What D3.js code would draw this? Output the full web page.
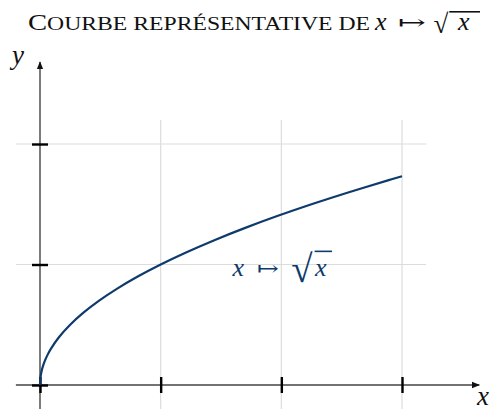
<!DOCTYPE html>
<html>
<head>
<meta charset="utf-8">
<script src="https://cdn.jsdelivr.net/npm/d3@7"></script>
<style>
  html, body { margin: 0; padding: 0; background: #fff; }
  svg { display: block; }
  text { font-family: "Liberation Serif", "DejaVu Serif", serif; white-space: pre; }
</style>
</head>
<body>
<svg id="chart" width="496" height="411"></svg>
<script>
// Sample points of the curve y = √x (x = y², y step 0.1)
const curveX = [0, 0.0025, 0.01, 0.0225, 0.04, 0.0625, 0.09, 0.16, 0.25, 0.36, 0.49, 0.64, 0.81, 1, 1.21, 1.44, 1.69, 1.96, 2.25, 2.56, 2.89, 3];
const curveY = [0, 0.05, 0.1, 0.15, 0.2, 0.25, 0.3, 0.4, 0.5, 0.6, 0.7, 0.8, 0.9, 1, 1.1, 1.2, 1.3, 1.4, 1.5, 1.6, 1.7, 1.7321];

const xTicks = [0, 1, 2, 3];
const yTicks = [0, 1, 2];
const xGrid = [1, 2, 3];
const yGrid = [1, 2];

const titleWords = "Courbe représentative de";
const curveLabelAt = [1.6, 0.9];

const svg = d3.select("#chart");
const x = d3.scaleLinear().domain([0, 3]).range([40, 402]);
const y = d3.scaleLinear().domain([0, 2]).range([385, 144]);

const gridColor = "#dcdcdc";
const axisColor = "#444";
const curveColor = "#0e3b6c";
const ink = "#111";

// grid
svg.append("g").selectAll("line").data(xGrid).join("line")
  .attr("x1", d => x(d)).attr("x2", d => x(d))
  .attr("y1", y(-0.2)).attr("y2", y(2.2))
  .attr("stroke", gridColor).attr("stroke-width", 1.2);
svg.append("g").selectAll("line").data(yGrid).join("line")
  .attr("y1", d => y(d)).attr("y2", d => y(d))
  .attr("x1", x(-0.2)).attr("x2", x(3.2))
  .attr("stroke", gridColor).attr("stroke-width", 1.2);

// arrowhead
svg.append("defs").append("marker")
  .attr("id", "arrow").attr("viewBox", "0 0 10 10")
  .attr("refX", 9).attr("refY", 5)
  .attr("markerWidth", 8).attr("markerHeight", 8)
  .attr("markerUnits", "userSpaceOnUse")
  .attr("orient", "auto")
  .append("path").attr("d", "M0,1 L10,5 L0,9 Z").attr("fill", ink);

// axis lines
svg.append("line")
  .attr("x1", x(-0.2)).attr("x2", x(3.64))
  .attr("y1", y(0)).attr("y2", y(0))
  .attr("stroke", axisColor).attr("stroke-width", 1.4)
  .attr("marker-end", "url(#arrow)");
svg.append("line")
  .attr("x1", x(0)).attr("x2", x(0))
  .attr("y1", y(-0.2)).attr("y2", y(2.68))
  .attr("stroke", axisColor).attr("stroke-width", 1.4)
  .attr("marker-end", "url(#arrow)");

// tick marks crossing the axes
const gx = svg.append("g")
  .attr("transform", `translate(0,${y(0)})`)
  .call(d3.axisBottom(x).tickValues(xTicks).tickFormat("").tickSizeOuter(0));
gx.select(".domain").remove();
gx.selectAll(".tick line").attr("y1", -8).attr("y2", 8)
  .attr("stroke", "#000").attr("stroke-width", 2.4);

const gy = svg.append("g")
  .attr("transform", `translate(${x(0)},0)`)
  .call(d3.axisLeft(y).tickValues(yTicks).tickFormat("").tickSizeOuter(0));
gy.select(".domain").remove();
gy.selectAll(".tick line").attr("x1", -8).attr("x2", 8)
  .attr("stroke", "#000").attr("stroke-width", 2.4);

// curve
const pts = curveX.map((d, i) => [d, curveY[i]]);
svg.append("path")
  .datum(pts)
  .attr("fill", "none")
  .attr("stroke", curveColor)
  .attr("stroke-width", 2.2)
  .attr("d", d3.line().x(d => x(d[0])).y(d => y(d[1])).curve(d3.curveCatmullRom.alpha(0.5)));

// axis names
svg.append("text").attr("x", 12).attr("y", 64)
  .attr("font-style", "italic").attr("font-size", 27).attr("fill", ink).text("y");
svg.append("text").attr("x", 477).attr("y", 405)
  .attr("font-style", "italic").attr("font-size", 27).attr("fill", ink).text("x");

// ink box of a glyph, per unit of font size
const measureCtx = document.createElement("canvas").getContext("2d");
function glyphBox(ch, family) {
  measureCtx.font = `100px "${family}"`;
  const m = measureCtx.measureText(ch);
  return {
    asc: m.actualBoundingBoxAscent / 100,
    desc: m.actualBoundingBoxDescent / 100,
    left: -m.actualBoundingBoxLeft / 100,
    right: m.actualBoundingBoxRight / 100
  };
}
const radBox = glyphBox("√", "DejaVu Serif");

// "x ↦ √x" laid out from given positions; the radical is sized to span [top, bottom]
function mapsToSqrt(g, color, o) {
  g.append("text").attr("x", o.x0).attr("y", o.base)
    .attr("font-size", o.size).attr("font-style", "italic").attr("fill", color).text("x");
  g.append("text").attr("x", o.arrow).attr("y", o.base - 1)
    .attr("font-size", 20).attr("font-family", "DejaVu Serif").attr("fill", color)
    .attr("textLength", o.arrowW).attr("lengthAdjust", "spacingAndGlyphs").text("↦");
  const rs = (o.bottom - o.top) / (radBox.asc + radBox.desc);
  const rx = o.rad - radBox.left * rs;
  g.append("text").attr("x", rx).attr("y", o.top + radBox.asc * rs)
    .attr("font-size", rs).attr("font-family", "DejaVu Serif").attr("fill", color).text("√");
  g.append("text").attr("x", o.arg).attr("y", o.base)
    .attr("font-size", o.size).attr("font-style", "italic").attr("fill", color).text("x");
  g.append("line")
    .attr("x1", rx + radBox.right * rs - 1.5).attr("x2", o.barEnd)
    .attr("y1", o.top + 0.8).attr("y2", o.top + 0.8)
    .attr("stroke", color).attr("stroke-width", 1.6);
}

// title in small capitals: large initial, reduced capitals after
const tg = svg.append("g");
const title = tg.append("text").attr("x", 28).attr("y", 30)
  .attr("fill", ink)
  .attr("textLength", 342).attr("lengthAdjust", "spacingAndGlyphs");
title.append("tspan").attr("font-size", 23).text(titleWords[0].toUpperCase());
title.append("tspan").attr("font-size", 19).text(titleWords.slice(1).toUpperCase());
mapsToSqrt(tg, ink, {
  x0: 375, base: 30, size: 26, arrow: 398, arrowW: 28,
  rad: 434, top: 11, bottom: 34, arg: 458, barEnd: 480
});

// curve label
const lx = x(curveLabelAt[0]), ly = y(curveLabelAt[1]);
mapsToSqrt(svg.append("g"), curveColor, {
  x0: lx - 0.5, base: ly - 1, size: 26, arrow: lx + 24, arrowW: 22,
  rad: lx + 59, top: ly - 26, bottom: ly + 7, arg: lx + 82, barEnd: lx + 99
});
</script>
</body>
</html>
